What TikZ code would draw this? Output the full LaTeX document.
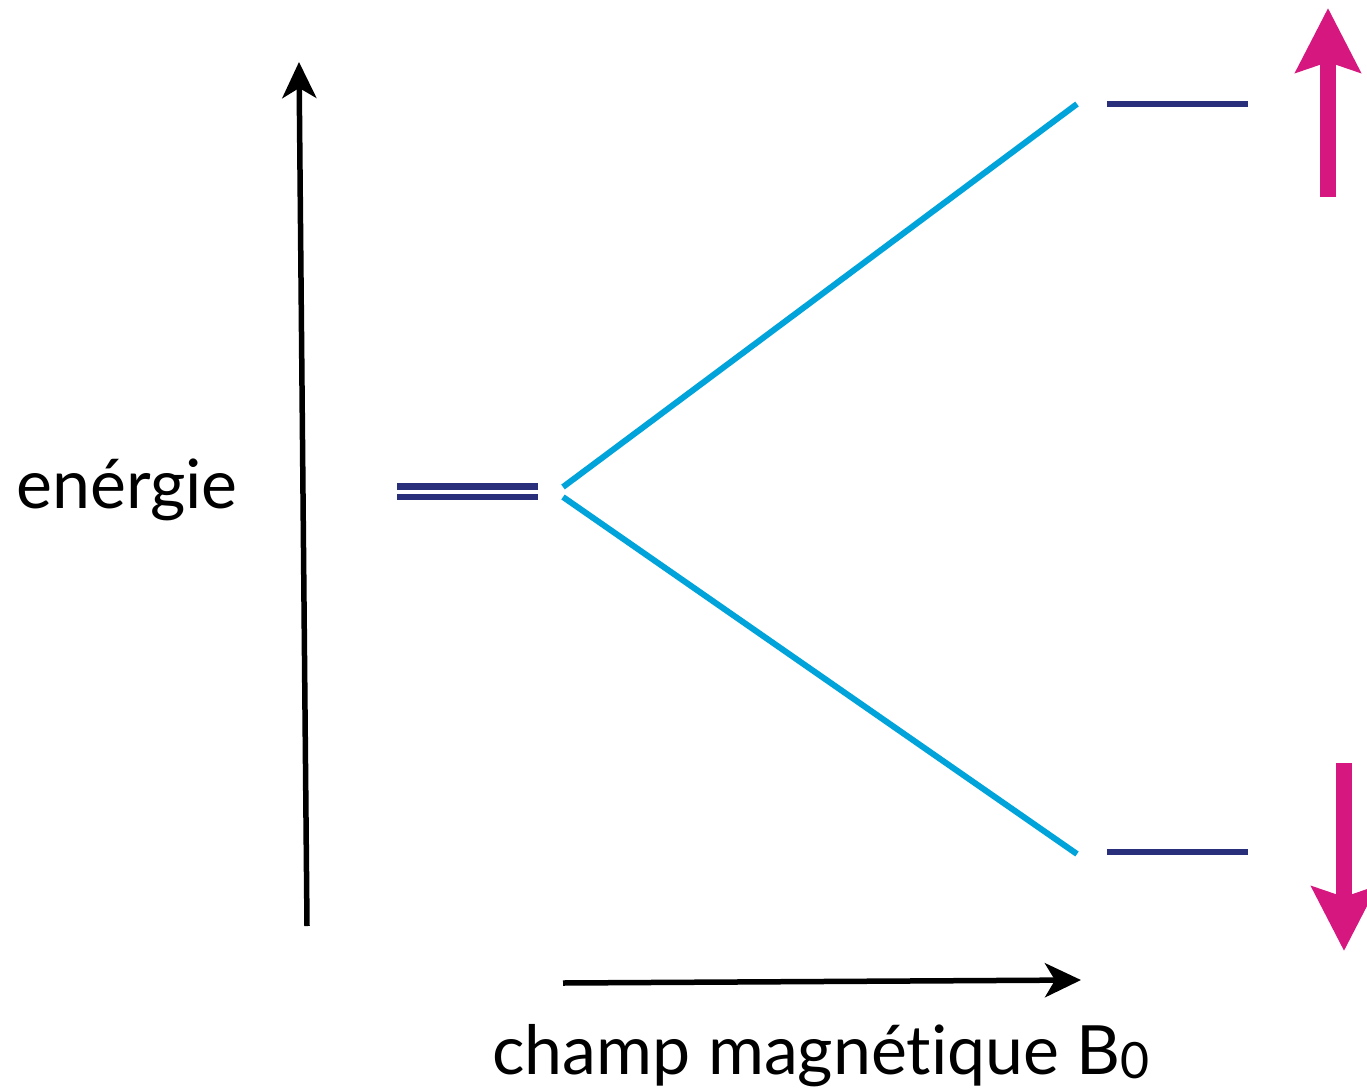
\documentclass[tikz,border=0pt]{standalone}
\usepackage{fontspec}
\setmainfont{Lato}[Ligatures={NoCommon}]
\usetikzlibrary{arrows.meta}
\definecolor{levelblue}{HTML}{2A2F7C}
\definecolor{splitcyan}{HTML}{00A3DA}
\definecolor{spinpink}{HTML}{D6177F}
\newcommand{\fieldsub}[1]{\raisebox{-4pt}{\fontsize{50}{50}\selectfont #1}}
\tikzset{
  axis/.style={line width=5.5pt, -{Stealth[length=36pt, width=34pt, inset=10pt]}},
  level/.style={levelblue, line width=6.5pt},
  split/.style={splitcyan, line width=6pt},
  spin/.style={spinpink, line width=16pt, -{Stealth[length=64pt, width=64pt, inset=10pt]}},
  label/.style={font=\fontsize{68}{76}\selectfont, inner sep=0pt}
}
\begin{document}
\begin{tikzpicture}[x=1pt, y=-1pt]
  \useasboundingbox (0,0) rectangle (1367,1091);
  % Energy axis
  \coordinate (ebot) at (307,926);
  \coordinate (etop) at (299,62);
  \draw[axis] (ebot) -- (etop);
  \node[label] (elabel) at (127,490) {enérgie};
  % Degenerate level
  \draw[level] (397,486.5) -- (538,486.5);
  \draw[level] (397,497) -- (538,497);
  % Splitting
  \coordinate (sup) at (563,487);
  \coordinate (sdown) at (563,497);
  \coordinate (hi) at (1077,104);
  \coordinate (lo) at (1077,854);
  \draw[split] (sup) -- (hi);
  \draw[split] (sdown) -- (lo);
  % Split levels
  \draw[level] (1107,104) -- (1248,104);
  \draw[level] (1107,852) -- (1248,852);
  % Spin arrows
  \draw[spin] (1328,197) -- (1328,8);
  \draw[spin] (1344,763) -- (1344,951);
  % Field axis
  \coordinate (bstart) at (563,983);
  \coordinate (bend) at (1081,980);
  \draw[axis] (bstart) -- (bend);
  \node[label] (blabel) at (821,1056) {champ magnétique B\fieldsub{0}};
\end{tikzpicture}
\end{document}
